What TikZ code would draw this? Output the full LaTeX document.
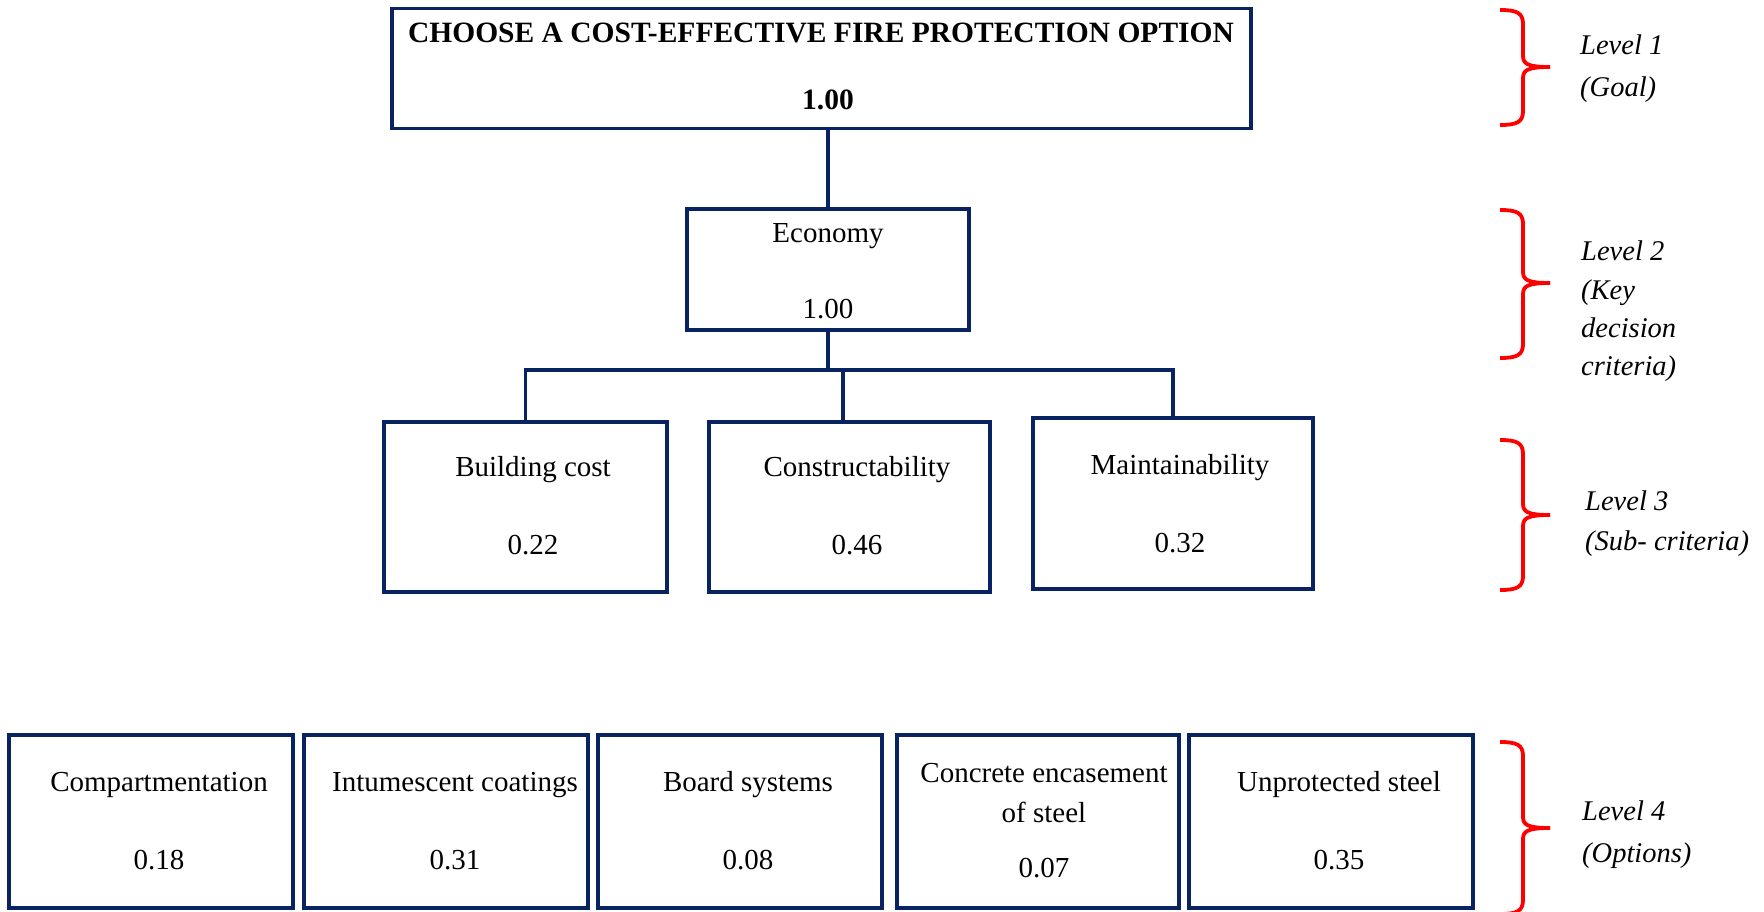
\documentclass[tikz,border=0pt]{standalone}
\usepackage{fontspec}
\setmainfont{Liberation Serif}
\definecolor{navy}{RGB}{8,34,98}
\definecolor{bracered}{RGB}{255,0,0}
% right-facing curly bracket: top y, tip y, bottom y
\newcommand\levelbrace[3]{%
  \draw[lvlbrace] (1500,#1) .. controls (1517,#1) and (1523,#1+3) .. (1523,#1+14)
    -- (1523,#2-11) .. controls (1523,#2-3) and (1528,#2) .. (1550,#2);
  \draw[lvlbrace] (1550,#2) .. controls (1528,#2) and (1523,#2+3) .. (1523,#2+11)
    -- (1523,#3-14) .. controls (1523,#3-3) and (1517,#3) .. (1500,#3);
}
\begin{document}
\begin{tikzpicture}[x=1pt,y=-1pt,
  box/.style={draw=navy, line width=3.7pt, inner sep=0pt},
  link/.style={draw=navy, line width=3.5pt},
  txt/.style={anchor=base, inner sep=0pt, font=\fontsize{29}{35}\selectfont},
  ttl/.style={anchor=base, inner sep=0pt, font=\fontsize{29.5}{35}\selectfont\bfseries},
  lvl/.style={anchor=base west, inner sep=0pt, font=\fontsize{28.5}{34}\selectfont\itshape},
  lvlbrace/.style={draw=bracered, line width=3.8pt, line join=round}]
\useasboundingbox (0,0) rectangle (1764,912);

% Level 1: goal
\node[box, minimum width=859pt, minimum height=120pt] (goal) at (821.5,68.5) {};
\node[ttl] (goalname) at (821,43) {CHOOSE A COST-EFFECTIVE FIRE PROTECTION OPTION};
\node[ttl] (goalval) at (828,110) {1.00};

% Level 2: key criterion
\node[box, minimum width=282pt, minimum height=121pt] (eco) at (828,269.5) {};
\node[txt] (econame) at (828,242) {Economy};
\node[txt] (ecoval) at (828,318) {1.00};

% Level 3: sub-criteria
\node[box, minimum width=283pt, minimum height=170pt] (bc) at (525.5,507) {};
\node[txt] (bcname) at (533,476) {Building cost};
\node[txt] (bcval) at (533,554) {0.22};
\node[box, minimum width=281pt, minimum height=170pt] (ct) at (849.5,507) {};
\node[txt] (ctname) at (857,476) {Constructability};
\node[txt] (ctval) at (857,554) {0.46};
\node[box, minimum width=280pt, minimum height=171pt] (mt) at (1173,503.5) {};
\node[txt] (mtname) at (1180,474) {Maintainability};
\node[txt] (mtval) at (1180,552) {0.32};

% Level 4: options
\node[box, minimum width=284pt, minimum height=173pt] (o1) at (151,821.5) {};
\node[txt] (o1name) at (159,791) {Compartmentation};
\node[txt] (o1val) at (159,869) {0.18};
\node[box, minimum width=284pt, minimum height=173pt] (o2) at (446,821.5) {};
\node[txt] (o2name) at (455,791) {Intumescent coatings};
\node[txt] (o2val) at (455,869) {0.31};
\node[box, minimum width=284pt, minimum height=173pt] (o3) at (740,821.5) {};
\node[txt] (o3name) at (748,791) {Board systems};
\node[txt] (o3val) at (748,869) {0.08};
\node[box, minimum width=282pt, minimum height=173pt] (o4) at (1038,821.5) {};
\node[txt] (o4name) at (1044,782) {Concrete encasement};
\node[txt] (o4name2) at (1044,822) {of steel};
\node[txt] (o4val) at (1044,877) {0.07};
\node[box, minimum width=284pt, minimum height=173pt] (o5) at (1331,821.5) {};
\node[txt] (o5name) at (1339,791) {Unprotected steel};
\node[txt] (o5val) at (1339,869) {0.35};

% connectors
\coordinate (bar) at (828,370);
\coordinate (dropc) at (843,370);
\draw[link] (eco.north) -- (eco.north |- goal.south);
\draw[link] (eco.south) -- (bar);
\draw[link] (bc.north) |- (bar) -| (mt.north);
\draw[link] (dropc) -- (dropc |- ct.north);

% level brackets and captions
\levelbrace{10}{67}{125}
\levelbrace{210}{283}{358}
\levelbrace{440}{515}{590}
\levelbrace{742}{828}{914}
\node[lvl] (l1a) at (1580,55) {Level 1};
\node[lvl] (l1b) at (1580,97) {(Goal)};
\node[lvl] (l2a) at (1581,260) {Level 2};
\node[lvl] (l2b) at (1581,299) {(Key};
\node[lvl] (l2c) at (1581,337) {decision};
\node[lvl] (l2d) at (1581,375) {criteria)};
\node[lvl] (l3a) at (1585,510) {Level 3};
\node[lvl] (l3b) at (1585,550) {(Sub- criteria)};
\node[lvl] (l4a) at (1582,820) {Level 4};
\node[lvl] (l4b) at (1582,862) {(Options)};
\end{tikzpicture}
\end{document}
